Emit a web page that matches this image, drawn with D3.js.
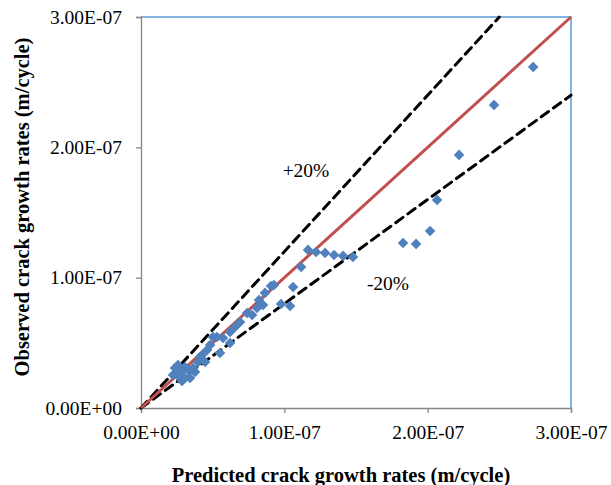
<!DOCTYPE html>
<html>
<head>
<meta charset="utf-8">
<script src="https://cdn.jsdelivr.net/npm/d3@7"></script>
<style>
  html, body { margin: 0; padding: 0; background: #fff; }
  svg { display: block; }
  text { font-family: "Liberation Serif", "Times New Roman", serif; fill: #000; }
</style>
</head>
<body>
<svg id="chart" width="611" height="485"></svg>
<script>
// Data (values in m/cycle)
const predicted = [
  0.223, 0.237, 0.258, 0.279, 0.286, 0.307, 0.328, 0.363, 0.398, 0.412,
  0.426, 0.447, 0.461, 0.482, 0.502, 0.530, 0.551, 0.572, 0.621, 0.621,
  0.656, 0.691, 0.740, 0.775, 0.809, 0.823, 0.851, 0.865, 0.907, 0.928,
  0.977, 1.040, 1.061, 1.117, 1.165, 1.221, 1.284, 1.347, 1.410, 1.479,
  1.828, 1.919, 2.017, 2.066, 2.219, 2.463, 2.736,
  0.251, 0.342, 0.377, 0.307
].map(v => v * 1e-7);
const observed = [
  0.253, 0.307, 0.330, 0.276, 0.207, 0.230, 0.292, 0.307, 0.353, 0.391,
  0.407, 0.353, 0.445, 0.484, 0.545, 0.545, 0.422, 0.537, 0.583, 0.499,
  0.622, 0.660, 0.729, 0.714, 0.767, 0.829, 0.790, 0.883, 0.936, 0.944,
  0.798, 0.783, 0.929, 1.082, 1.213, 1.197, 1.190, 1.174, 1.167, 1.159,
  1.266, 1.259, 1.358, 1.596, 1.942, 2.325, 2.617,
  0.253, 0.230, 0.276, 0.315
].map(v => v * 1e-7);

const xTicks = [0, 1e-7, 2e-7, 3e-7];
const yTicks = [0, 1e-7, 2e-7, 3e-7];
const tickLabels = ["0.00E+00", "1.00E-07", "2.00E-07", "3.00E-07"];
const refLines = [
  { name: "+20%", factor: 1.2 },
  { name: "-20%", factor: 0.8 },
  { name: "1:1", factor: 1.0 }
];
const xTitle = "Predicted crack growth rates (m/cycle)";
const yTitle = "Observed crack growth rates (m/cycle)";

const svg = d3.select("#chart");
const L = 141, R = 571, T = 17, B = 408;
const x = d3.scaleLinear().domain([0, 3e-7]).range([L, R]);
const y = d3.scaleLinear().domain([0, 3e-7]).range([B, T]);

// Plot border (top/right blue)
svg.append("path")
  .attr("d", `M${L},${T}H${R}V${B}`)
  .attr("fill", "none")
  .attr("stroke", "#5B9BD5")
  .attr("stroke-width", 1.5);

// Axes
const xAxis = d3.axisBottom(x).tickValues(xTicks).tickFormat((d, i) => tickLabels[i]).tickSizeOuter(0).tickSize(5).tickPadding(12);
const yAxis = d3.axisLeft(y).tickValues(yTicks).tickFormat((d, i) => tickLabels[i]).tickSizeOuter(0).tickSize(5).tickPadding(14);

const gx = svg.append("g").attr("transform", `translate(0,${B})`).call(xAxis);
const gy = svg.append("g").attr("transform", `translate(${L},0)`).call(yAxis);
[gx, gy].forEach(g => {
  g.select(".domain").attr("stroke", "#868686").attr("stroke-width", 1.3);
  g.selectAll(".tick line").attr("stroke", "#868686").attr("stroke-width", 1.3);
  g.selectAll(".tick text").attr("font-family", "Liberation Serif, Times New Roman, serif").attr("font-size", 19.5).attr("fill", "#000");
});

// Reference lines
const xMax = 3e-7;
refLines.forEach(r => {
  const xe = Math.min(xMax, 3e-7 / r.factor);
  const ln = svg.append("line")
    .attr("x1", x(0)).attr("y1", y(0))
    .attr("x2", x(xe)).attr("y2", y(xe * r.factor))
    .attr("stroke-width", 3);
  if (r.factor === 1) {
    ln.attr("stroke", "#C0504D");
  } else {
    ln.attr("stroke", "#000").attr("stroke-dasharray", "9,6").attr("stroke-linecap", "round");
  }
});

// Points
svg.append("g").selectAll("path")
  .data(predicted.map((p, i) => [p, observed[i]]))
  .join("path")
  .attr("d", d3.symbol().type(d3.symbolSquare).size(56))
  .attr("transform", d => `translate(${x(d[0])},${y(d[1])}) rotate(45)`)
  .attr("fill", "#4F81BD");

// Line labels
svg.append("text").attr("x", 306).attr("y", 177).attr("text-anchor", "middle").attr("font-size", 19.5).text("+20%");
svg.append("text").attr("x", 388).attr("y", 290).attr("text-anchor", "middle").attr("font-size", 19.5).text("-20%");

// Axis titles
svg.append("text").attr("x", 341).attr("y", 482).attr("text-anchor", "middle")
  .attr("font-size", 20.5).attr("font-weight", "bold").text(xTitle);
svg.append("text").attr("transform", `translate(29,207) rotate(-90)`).attr("text-anchor", "middle")
  .attr("font-size", 20.5).attr("font-weight", "bold").text(yTitle);
</script>
</body>
</html>
